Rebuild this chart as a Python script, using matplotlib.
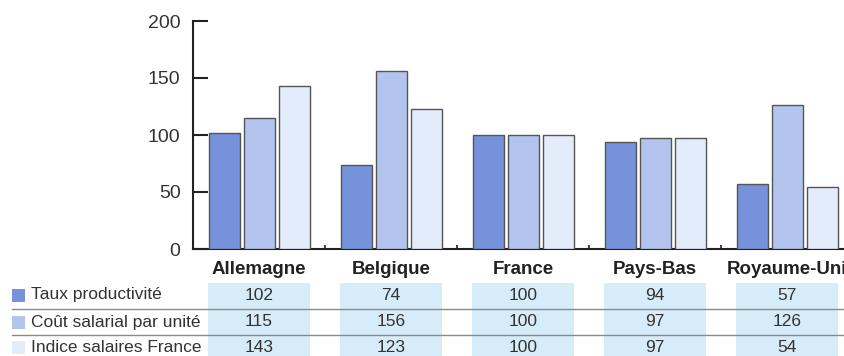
"""Grouped bar chart with a data table below: productivity and wage costs."""

import matplotlib.pyplot as plt
import numpy as np
from matplotlib.patches import Rectangle
from matplotlib.transforms import blended_transform_factory

plt.rcParams['font.family'] = ['Liberation Sans', 'DejaVu Sans']

countries = ['Allemagne', 'Belgique', 'France', 'Pays-Bas', 'Royaume-Uni']
series_names = ['Taux productivité', 'Coût salarial par unité', 'Indice salaires France']
taux_productivite = [102, 74, 100, 94, 57]
cout_salarial = [115, 156, 100, 97, 126]
indice_salaires = [143, 123, 100, 97, 54]
y_ticks = [0, 50, 100, 150, 200]

series = [taux_productivite, cout_salarial, indice_salaires]
colors = ['#7592db', '#b3c5ef', '#e3ecfa']
text_color = '#333333'

W, H = 844, 356
fig = plt.figure(figsize=(W / 100, H / 100), dpi=100)
ax = fig.add_axes([193 / W, 1 - 249 / H, 1 - 193 / W, (249 - 21) / H])

x = np.arange(len(countries))
offset = 35 / 132
width = 31 / 132
for i, vals in enumerate(series):
    ax.bar(x + (i - 1) * offset, vals, width, color=colors[i],
           edgecolor='#555555', linewidth=1.0, zorder=3)

ax.set_xlim(-0.5, -0.5 + (W - 193) / 132)
ax.set_ylim(0, 200)
ax.set_yticks(y_ticks)
ax.set_yticklabels([str(t) for t in y_ticks], fontsize=14, color=text_color)
ax.tick_params(axis='y', direction='in', length=11, width=1.5, pad=9,
               color='#222222')
ax.set_xticks(x[:-1] + 0.5)
ax.set_xticklabels([])
ax.tick_params(axis='x', direction='in', length=3, width=1.2, color='#222222')
for side in ['top', 'right']:
    ax.spines[side].set_visible(False)
for side in ['left', 'bottom']:
    ax.spines[side].set_linewidth(1.5)
    ax.spines[side].set_color('#222222')

# table below the chart
tr = blended_transform_factory(ax.transData, fig.transFigure)
band_half = 0.39
for xi in x:
    fig.patches.append(Rectangle((xi - band_half, 0), 2 * band_half, (H - 283) / H,
                                 transform=tr, facecolor='#d6ecf8',
                                 edgecolor='none', zorder=0))
    fig.text(xi, 1 - 270 / H, countries[xi], transform=tr, ha='center',
             va='center', fontsize=13.5, fontweight='bold', color='#222222')

row_y = [295, 322, 347]
for r, (name, vals) in enumerate(zip(series_names, series)):
    yf = 1 - row_y[r] / H
    fig.patches.append(Rectangle((12 / W, yf - 6.5 / H), 13 / W, 13 / H,
                                 transform=fig.transFigure,
                                 facecolor=colors[r], edgecolor='none'))
    fig.text(31 / W, yf, name, ha='left', va='center', fontsize=12.5,
             color=text_color)
    for xi, v in zip(x, vals):
        fig.text(xi, yf, str(v), transform=tr, ha='center', va='center',
                 fontsize=12.5, color=text_color)

for ly in [309, 335]:
    fig.add_artist(plt.Line2D([12 / W, 1], [1 - ly / H, 1 - ly / H],
                              transform=fig.transFigure, color='#8a8a8a',
                              linewidth=1.0))

fig.savefig('out.png', dpi=100)
